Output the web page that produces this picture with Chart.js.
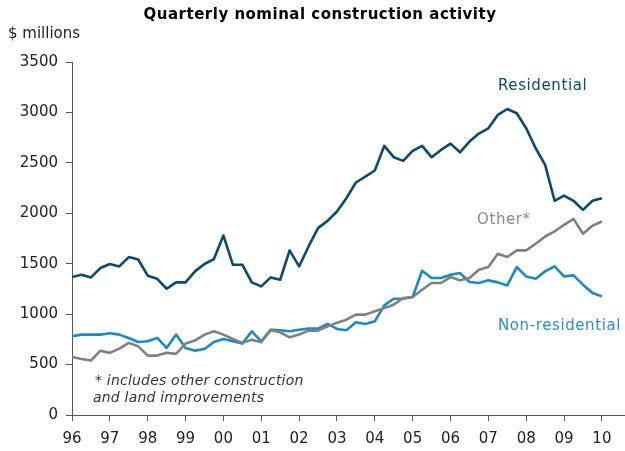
<!DOCTYPE html>
<html>
<head>
<meta charset="utf-8">
<script src="https://cdn.jsdelivr.net/npm/chart.js@4.4.1/dist/chart.umd.min.js"></script>
<style>
  html, body { margin: 0; padding: 0; background: #fff; }
  #wrap { width: 625px; height: 451px; position: relative; }
</style>
</head>
<body>
<div id="wrap"><canvas id="c" width="625" height="451"></canvas></div>
<script>
// Quarterly data, 1996 Q1 to 2010 Q1 ($ millions)
const startYear = 1996;
const yearTicks = [96, 97, 98, 99, 0, 1, 2, 3, 4, 5, 6, 7, 8, 9, 10];
const yTicks = [0, 500, 1000, 1500, 2000, 2500, 3000, 3500];

const residential = [
  1368, 1391, 1364, 1457, 1497, 1473, 1566, 1542, 1381, 1350,
  1252, 1315, 1315, 1424, 1497, 1546, 1780, 1490, 1490, 1315,
  1275, 1364, 1341, 1632, 1473, 1671, 1853, 1925, 2018, 2150,
  2305, 2364, 2424, 2668, 2556, 2520, 2619, 2668, 2556, 2628,
  2691, 2605, 2711, 2790, 2843, 2975, 3034, 2992, 2843, 2645,
  2480, 2124, 2176, 2124, 2034, 2124, 2150
];
const nonResidential = [
  780, 797, 797, 797, 810, 797, 764, 724, 731, 764,
  665, 797, 665, 638, 655, 724, 754, 731, 708, 830,
  731, 846, 840, 830, 846, 856, 856, 903, 853, 840,
  919, 903, 929, 1087, 1153, 1153, 1170, 1430, 1358, 1358,
  1391, 1408, 1319, 1309, 1335, 1315, 1285, 1467, 1374, 1351,
  1424, 1473, 1374, 1384, 1292, 1210, 1176
];
const other = [
  576, 556, 540, 638, 616, 658, 715, 681, 589, 589,
  616, 606, 708, 738, 797, 830, 797, 754, 715, 747,
  721, 840, 820, 770, 797, 837, 837, 879, 915, 945,
  995, 995, 1028, 1061, 1094, 1160, 1170, 1242, 1309, 1309,
  1368, 1335, 1358, 1440, 1467, 1599, 1566, 1632, 1632, 1698,
  1770, 1820, 1886, 1945, 1797, 1876, 1919
];

const seriesNames = ['Residential', 'Non-residential', 'Other*'];
const seriesColors = ['#0b4a6f', '#1a8ac6', '#808080'];

function toPoints(arr) {
  return arr.map((v, i) => ({ x: startYear + i / 4, y: v }));
}
function fullYear(yy) { return yy >= 50 ? 1900 + yy : 2000 + yy; }

const FONT = 'DejaVu Sans';

const textPlugin = {
  id: 'texts',
  afterDraw(chart) {
    const ctx = chart.ctx;
    ctx.save();
    ctx.textBaseline = 'middle';
    ctx.textAlign = 'center';
    ctx.fillStyle = '#000';
    ctx.font = 'bold 15px "' + FONT + '"';
    ctx.letterSpacing = '0.5px';
    ctx.fillText('Quarterly nominal construction activity', 320, 15);
    ctx.textAlign = 'left';
    ctx.letterSpacing = '0px';
    ctx.font = '15px "' + FONT + '"';
    ctx.fillStyle = '#222';
    ctx.fillText('$ millions', 8, 34);
    ctx.letterSpacing = '0.6px';
    ctx.fillStyle = seriesColors[0];
    ctx.fillText(seriesNames[0], 498, 86);
    ctx.fillStyle = '#8a8a8a';
    ctx.fillText(seriesNames[2], 477, 220);
    ctx.fillStyle = '#2a8cc4';
    ctx.fillText(seriesNames[1], 498, 326);
    ctx.fillStyle = '#333';
    ctx.letterSpacing = '0.2px';
    ctx.font = 'italic 14px "' + FONT + '"';
    ctx.fillText('* includes other construction', 95, 381);
    ctx.fillText('and land improvements', 93, 398);
    ctx.restore();
  }
};

new Chart(document.getElementById('c'), {
  type: 'line',
  data: {
    datasets: [
      { label: seriesNames[0], data: toPoints(residential), borderColor: seriesColors[0], borderWidth: 2.6 },
      { label: seriesNames[2], data: toPoints(other), borderColor: seriesColors[2], borderWidth: 2.6 },
      { label: seriesNames[1], data: toPoints(nonResidential), borderColor: seriesColors[1], borderWidth: 2.6 }
    ]
  },
  options: {
    responsive: false,
    animation: false,
    events: [],
    layout: { padding: { top: 62, left: 0, right: 0, bottom: 0 } },
    elements: { point: { radius: 0 }, line: { tension: 0, borderJoinStyle: 'round' } },
    plugins: { legend: { display: false }, title: { display: false }, tooltip: { enabled: false } },
    scales: {
      x: {
        type: 'linear',
        min: 1996,
        max: 2010.61,
        afterBuildTicks(scale) {
          scale.ticks = yearTicks.map(t => ({ value: fullYear(t) }));
        },
        afterFit(scale) { scale.height = 36; },
        grid: { drawOnChartArea: false, drawTicks: true, tickLength: 6, color: '#555', lineWidth: 1 },
        border: { display: true, color: '#555', width: 1 },
        ticks: {
          padding: 9,
          maxRotation: 0,
          autoSkip: false,
          color: '#222',
          font: { family: FONT, size: 15 },
          callback: (v) => String(v % 100).padStart(2, '0')
        }
      },
      y: {
        min: 0,
        max: 3500,
        afterBuildTicks(scale) {
          scale.ticks = yTicks.map(v => ({ value: v }));
        },
        afterFit(scale) { scale.width = 72; },
        grid: { drawOnChartArea: false, drawTicks: true, tickLength: 6, color: '#555', lineWidth: 1 },
        border: { display: true, color: '#555', width: 1 },
        ticks: {
          padding: 8,
          color: '#222',
          font: { family: FONT, size: 15 },
          callback: (v) => String(v)
        }
      }
    }
  },
  plugins: [textPlugin]
});
</script>
</body>
</html>
